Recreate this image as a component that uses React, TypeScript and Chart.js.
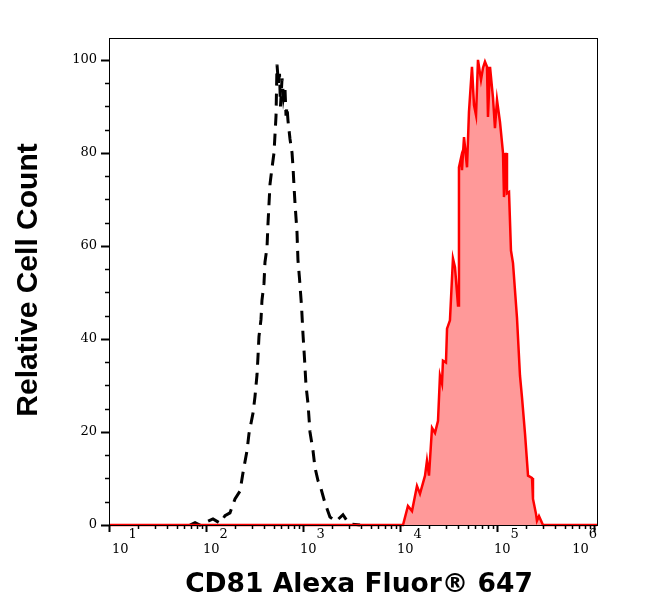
import { useEffect, useRef } from "react";
import Chart from "chart.js/auto";
import type { ChartConfiguration, Plugin } from "chart.js/auto";

// isotype control (dashed black), x given as log10 of intensity
const blackLogX = [
  1.835, 1.887, 1.938, 2.072, 2.144, 2.196, 2.247, 2.299, 2.351, 2.381, 2.423,
  2.443, 2.485, 2.505, 2.526, 2.536, 2.546, 2.567, 2.577, 2.598, 2.608, 2.629,
  2.639, 2.649, 2.66, 2.68, 2.701, 2.722, 2.732, 2.747, 2.758, 2.768, 2.784,
  2.799, 2.814, 2.825, 2.835, 2.845, 2.866, 2.887, 2.897, 2.907, 2.918, 2.938,
  2.948, 2.964, 2.985, 3.0, 3.015, 3.031, 3.052, 3.072, 3.103, 3.124, 3.155,
  3.175, 3.227, 3.278, 3.34, 3.412, 3.464, 3.505, 3.588,
];
const blackCount = [
  0, 0.5, 0, 1.3, 0.4, 2.0, 2.6, 5.6, 7.3, 11.2, 16.0, 19.6, 24.1, 27.6, 32.3,
  36.2, 40.5, 44.2, 48.3, 52.0, 56.5, 59.7, 64.7, 68.8, 73.3, 76.7, 80, 88, 99,
  95, 97, 90, 96, 92, 94, 88, 90, 87, 83, 80, 77, 73, 69, 63, 57, 53, 47, 41, 36,
  30, 26, 20, 16, 12.3, 9.5, 8.6, 4.7, 1.7, 0.8, 2.2, 0.6, 0.2, 0,
];

// CD81 stained sample (red filled)
const redLogX = [
  1.0, 4.0, 4.031, 4.082, 4.124, 4.175, 4.206, 4.258, 4.278, 4.299, 4.33,
  4.361, 4.392, 4.412, 4.433, 4.443, 4.474, 4.485, 4.515, 4.546, 4.567, 4.598,
  4.608, 4.629, 4.639, 4.66, 4.691, 4.711, 4.742, 4.763, 4.784, 4.804, 4.835,
  4.856, 4.876, 4.897, 4.907, 4.928, 4.959, 4.979, 5.0, 5.031, 5.062, 5.072,
  5.093, 5.103, 5.124, 5.144, 5.165, 5.206, 5.237, 5.258, 5.289, 5.32, 5.361,
  5.371, 5.402, 5.412, 5.433, 5.474, 6.031,
];
const redCount = [
  0, 0, 0, 4.1, 3, 8.4, 6.7, 10.6, 13.8, 10.6, 20.9, 19.8, 22.4, 32.1, 30.4,
  35.3, 34.9, 42.2, 44, 57.3, 55.4, 47.2, 76.9, 78.9, 76.3, 83.4, 76.9, 88.8,
  98.5, 90.3, 88.1, 100, 95.7, 98.3, 99.6, 98.5, 87.7, 98.5, 91.8, 85.3, 91.4,
  86.6, 80, 70.5, 80, 71.3, 71.6, 59, 56.3, 44.6, 32.1, 27.4, 19.6, 10.6, 10.1,
  5.6, 2.4, 0.9, 1.9, 0, 0,
];

const xDecades = [1, 2, 3, 4, 5, 6];
const yTicks = [0, 20, 40, 60, 80, 100];
const yMinorStep = 5;
const xTitle = "CD81 Alexa Fluor® 647";
const yTitle = "Relative Cell Count";

const X_MIN = 10;
const X_MAX = 1.074e6;
const Y_MAX = 104.7;

const tickMark = (
  ctx: CanvasRenderingContext2D,
  x1: number,
  y1: number,
  x2: number,
  y2: number,
  w: number
) => {
  ctx.lineWidth = w;
  ctx.beginPath();
  ctx.moveTo(x1, y1);
  ctx.lineTo(x2, y2);
  ctx.stroke();
};

const flowAxes: Plugin<"line"> = {
  id: "flowAxes",
  afterDraw(chart) {
    const { ctx, chartArea: a, scales } = chart;
    const xs = scales.x;
    const ys = scales.y;
    ctx.save();
    ctx.setLineDash([]);
    ctx.strokeStyle = "#000";
    ctx.lineCap = "butt";

    ctx.lineWidth = 1;
    ctx.strokeRect(a.left + 0.5, a.top + 0.5, a.right - a.left, a.bottom - a.top);

    // y tick marks, long on labelled values
    for (let v = 0; v <= yTicks[yTicks.length - 1]; v += yMinorStep) {
      const py = Math.round(ys.getPixelForValue(v)) + 0.5;
      const major = yTicks.includes(v);
      tickMark(ctx, a.left - (major ? 8 : 4), py, a.left + 1, py, major ? 2 : 1.5);
    }
    // x log tick marks
    for (const d of xDecades) {
      for (let m = 1; m < 10; m++) {
        const v = m * 10 ** d;
        if (v > X_MAX) break;
        const px = Math.round(xs.getPixelForValue(v)) + 0.5;
        const major = m === 1;
        tickMark(ctx, px, a.bottom, px, a.bottom + (major ? 7 : 4), major ? 2 : 1.5);
      }
    }

    // decade labels 10^n
    ctx.fillStyle = "#000";
    ctx.textAlign = "left";
    ctx.textBaseline = "alphabetic";
    ctx.font = "13px 'DejaVu Serif', serif";
    for (const d of xDecades) {
      const px = xs.getPixelForValue(10 ** d);
      const wBase = ctx.measureText("10").width;
      const wExp = ctx.measureText(String(d)).width;
      let x0 = px - 3;
      if (x0 < a.left + 3) x0 = a.left + 3;
      if (x0 + wBase + wExp > a.right) x0 = a.right - wBase - wExp;
      ctx.fillText("10", x0, 553);
      ctx.fillText(String(d), x0 + wBase, 538);
    }

    // axis titles
    ctx.textAlign = "center";
    ctx.font = "bold 26.5px 'DejaVu Sans', sans-serif";
    ctx.fillText(xTitle, 359, 592);

    ctx.translate(37, 280);
    ctx.rotate(-Math.PI / 2);
    ctx.font = "bold 30px 'Liberation Sans', Arial, sans-serif";
    ctx.fillText(yTitle, 0, 0);

    ctx.restore();
  },
};

const App = () => {
  const canvasRef = useRef<HTMLCanvasElement | null>(null);

  useEffect(() => {
    const ctx = canvasRef.current?.getContext("2d");
    if (!ctx) return;

    const config: ChartConfiguration<"line", { x: number; y: number }[]> = {
      type: "line",
      data: {
        datasets: [
          {
            data: redLogX.map((e, i) => ({ x: 10 ** e, y: redCount[i] })),
            borderColor: "#ff0000",
            backgroundColor: "rgba(255, 0, 0, 0.4)",
            fill: "origin",
            borderWidth: 2.5,
            pointRadius: 0,
            tension: 0,
            clip: 4,
          },
          {
            data: blackLogX.map((e, i) => ({ x: 10 ** e, y: blackCount[i] })),
            borderColor: "#000000",
            borderDash: [12, 8],
            borderWidth: 3,
            fill: false,
            pointRadius: 0,
            tension: 0,
            clip: 4,
          },
        ],
      },
      options: {
        responsive: false,
        animation: false,
        events: [],
        layout: { padding: { left: 0, right: 53, top: 38, bottom: 0 } },
        plugins: {
          legend: { display: false },
          tooltip: { enabled: false },
        },
        scales: {
          x: {
            type: "logarithmic",
            min: X_MIN,
            max: X_MAX,
            ticks: { display: false },
            grid: { display: false, drawTicks: false },
            border: { display: false },
            afterFit: (scale) => {
              scale.height = 87;
            },
          },
          y: {
            type: "linear",
            min: 0,
            max: Y_MAX,
            afterBuildTicks: (scale) => {
              scale.ticks = yTicks.map((v) => ({ value: v }));
            },
            ticks: {
              color: "#000",
              padding: 12,
              font: { family: "'DejaVu Serif', serif", size: 13 },
            },
            grid: { display: false, drawTicks: false },
            border: { display: false },
            afterFit: (scale) => {
              scale.width = 109;
            },
          },
        },
      },
      plugins: [flowAxes],
    };

    const chart = new Chart(ctx, config);
    return () => {
      chart.destroy();
    };
  }, []);

  return (
    <div
      style={{
        position: "absolute",
        left: 0,
        top: 0,
        width: 650,
        height: 612,
        background: "#fff",
      }}
    >
      <canvas ref={canvasRef} width={650} height={612} />
    </div>
  );
};

export default App;
